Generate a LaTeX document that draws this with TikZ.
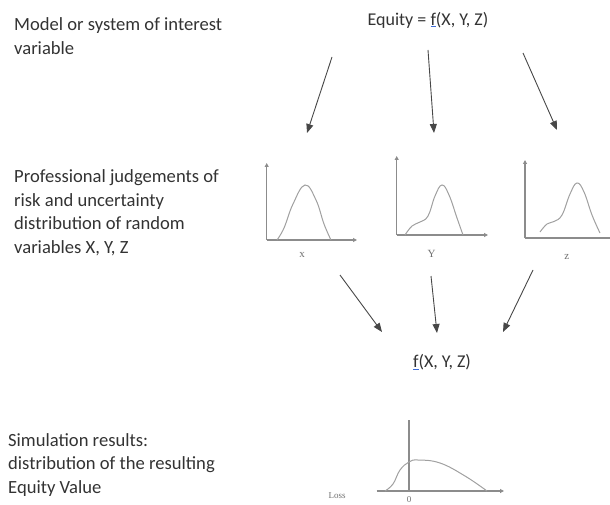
\documentclass[tikz,border=0pt]{standalone}
\usepackage{fontspec}
\setmainfont{Carlito}
\newfontfamily\tinyserif{Liberation Serif}
\usetikzlibrary{arrows.meta}

\definecolor{arrowgray}{HTML}{474747}
\definecolor{axisgray}{HTML}{8C8C8C}
\definecolor{curvegray}{HTML}{A0A0A0}
\definecolor{textgray}{HTML}{333333}
\definecolor{labelgray}{HTML}{707070}
\definecolor{linkblue}{HTML}{3D6BD6}

\newcommand\linkf{\textcolor{linkblue}{\underline{\textcolor{textgray}{f}}}}

\tikzset{
  note/.style={anchor=west, align=left, inner sep=0pt, text=textgray,
    font=\fontsize{18.6}{23.5}\selectfont},
  formula/.style={inner sep=0pt, text=textgray, font=\fontsize{18}{20}\selectfont},
  flow/.style={-{Triangle[length=9pt,width=7pt]}, arrowgray, line width=0.9pt},
  axis/.style={axisgray, line width=1.1pt, -{Triangle[length=4pt,width=4pt]}},
  pdf/.style={curvegray, line width=1pt},
  varlabel/.style={inner sep=0pt, text=labelgray, font=\tinyserif\fontsize{11}{11}\selectfont}
}

\begin{document}
\begin{tikzpicture}[x=1pt, y=-1pt]
  \useasboundingbox (0,0) rectangle (610,505);

  % 左侧说明
  \node[note] (model) at (14,36) {Model or system of interest\\variable};
  \node[note] (judge) at (14,212.5) {Professional judgements of\\risk and uncertainty\\distribution of random\\variables X, Y, Z};
  \node[note] (simul) at (8,465) {Simulation results:\\distribution of the resulting\\Equity Value};

  % 模型
  \node[formula] (eq) at (428,20) {Equity = \linkf(X, Y, Z)};

  % 分布 X
  \draw[axis] (266.7,240) -- (266.7,163);
  \draw[axis] (266.7,240) -- (357,240);
  \draw[pdf] plot[smooth, tension=0.7] coordinates
    {(277,240) (284,228) (293,204) (305,185) (316,200) (324,224) (331,240)};
  \node[varlabel] (lx) at (302,255) {x};

  % 分布 Y
  \draw[axis] (396.7,235) -- (396.7,156);
  \draw[axis] (396.7,235) -- (488,235);
  \draw[pdf] plot[smooth, tension=0.7] coordinates
    {(405,235) (412,226) (420,222) (428,216) (435,196) (442,185) (449,195) (457,218) (463,235)};
  \node[varlabel] (ly) at (431.7,254) {Y};

  % 分布 Z
  \draw[axis] (525,238) -- (525,160);
  \draw[axisgray, line width=1.1pt] (525,238) -- (612,238);
  \draw[pdf] plot[smooth, tension=0.7] coordinates
    {(540,232) (547,224) (554,221.5) (562,215) (570,194) (577,183) (584,192) (592,215) (600,233)};
  \node[varlabel] (lz) at (566.7,257) {z};

  % 模型到分布的箭头
  \coordinate (a1s) at (332,57);  \coordinate (a1e) at (307,133);
  \coordinate (a2s) at (428,50);  \coordinate (a2e) at (434,133);
  \coordinate (a3s) at (523,53);  \coordinate (a3e) at (557,130);
  \draw[flow] (a1s) -- (a1e);
  \draw[flow] (a2s) -- (a2e);
  \draw[flow] (a3s) -- (a3e);

  % 分布到函数的箭头
  \coordinate (b1s) at (340,275);  \coordinate (b1e) at (382,332);
  \coordinate (b2s) at (431,276);  \coordinate (b2e) at (437,333);
  \coordinate (b3s) at (533,270);  \coordinate (b3e) at (503,332);
  \draw[flow] (b1s) -- (b1e);
  \draw[flow] (b2s) -- (b2e);
  \draw[flow] (b3s) -- (b3e);

  \node[formula] (fx) at (442,362) {\linkf(X, Y, Z)};

  % 结果分布
  \draw[axisgray, line width=1.1pt] (409,491) -- (409,420);
  \draw[axis] (376.7,491) -- (504,491);
  \draw[pdf] plot[smooth, tension=0.7] coordinates
    {(385,491) (393,484) (400,470) (409,462) (418,460) (440,463) (465,476) (487,491)};
  \node[varlabel, font=\tinyserif\fontsize{9}{9}\selectfont] (zero) at (409,500) {0};
  \node[varlabel, font=\tinyserif\fontsize{9}{9}\selectfont] (loss) at (337,495.5) {Loss};

\end{tikzpicture}
\end{document}
